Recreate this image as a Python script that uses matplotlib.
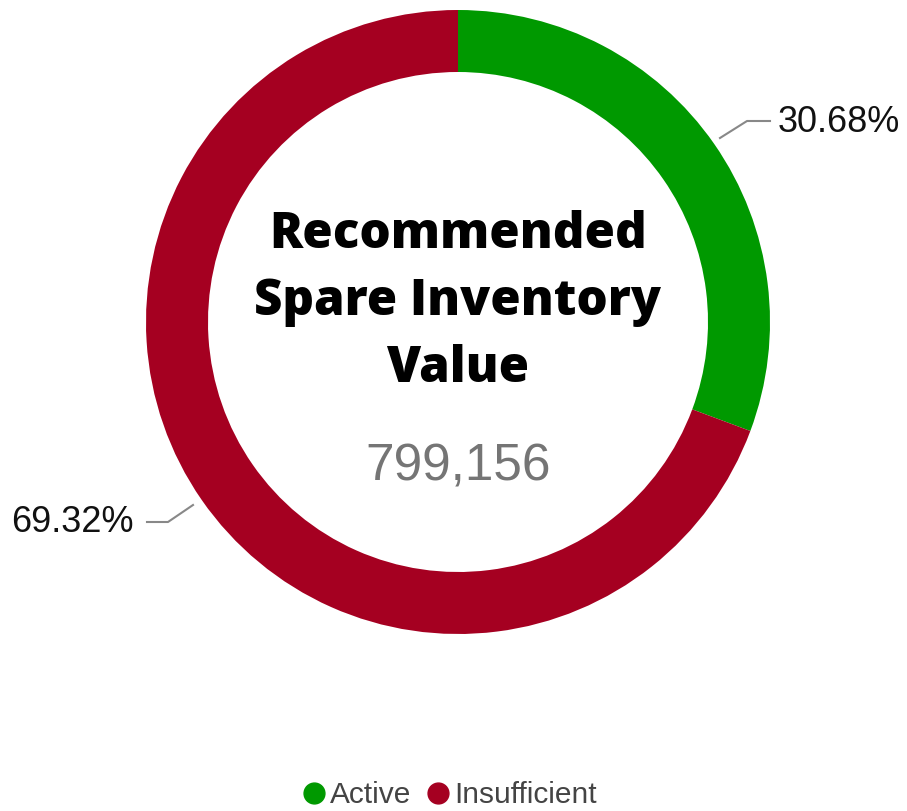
import matplotlib
matplotlib.use("Agg")
import matplotlib.pyplot as plt
from matplotlib.lines import Line2D
from matplotlib import font_manager as fm

categories = ["Active", "Insufficient"]
values = [30.68, 69.32]
colors = ["#009900", "#A50021"]
title_lines = ["Recommended", "Spare Inventory", "Value"]
center_value = "799,156"

W, H = 907, 811
fig = plt.figure(figsize=(W / 100, H / 100), dpi=100)
ax = fig.add_axes([0, 0, 1, 1])

def Y(y):
    return H - y

cx, cy, R, ring = 458, 322, 312, 62
ax.pie(values, colors=colors, startangle=90, counterclock=False,
       center=(cx, Y(cy)), radius=R, frame=True,
       wedgeprops=dict(width=ring, linewidth=0))
ax.set_xlim(0, W)
ax.set_ylim(0, H)
ax.set_aspect("equal")
ax.axis("off")

lc = "#888888"
ax.plot([720, 747, 770], [Y(138), Y(121), Y(121)], color=lc, lw=1.5)
ax.text(778, Y(123), f"{values[0]:.2f}%", fontsize=26, family="Liberation Sans",
        color="#111111", ha="left", va="center")
ax.plot([193, 168, 147], [Y(505), Y(522), Y(522)], color=lc, lw=1.5)
ax.text(134, Y(523), f"{values[1]:.2f}%", fontsize=26, family="Liberation Sans",
        color="#111111", ha="right", va="center")

title_font = fm.FontProperties(family=["Open Sans", "Roboto", "DejaVu Sans"], weight=800, size=35.5)
for i, line in enumerate(title_lines):
    ax.text(458, Y(248 + 67 * i), line, fontproperties=title_font,
            color="black", ha="center", va="baseline")
ax.text(458, Y(467), center_value, fontsize=37, family="Liberation Sans",
        color="#757575", ha="center", va="center")

handles = [Line2D([], [], marker="o", linestyle="", markersize=15,
                  markerfacecolor=c, markeredgecolor=c) for c in colors]
fig.legend(handles, categories, loc="center", bbox_to_anchor=(448 / W, 1 - 795 / H),
           ncol=2, frameon=False, handletextpad=0.05, columnspacing=0.4,
           prop=dict(family="Liberation Sans", size=21.5), labelcolor="#444444",
           handlelength=1.0)

fig.savefig("out.png", dpi=100)
